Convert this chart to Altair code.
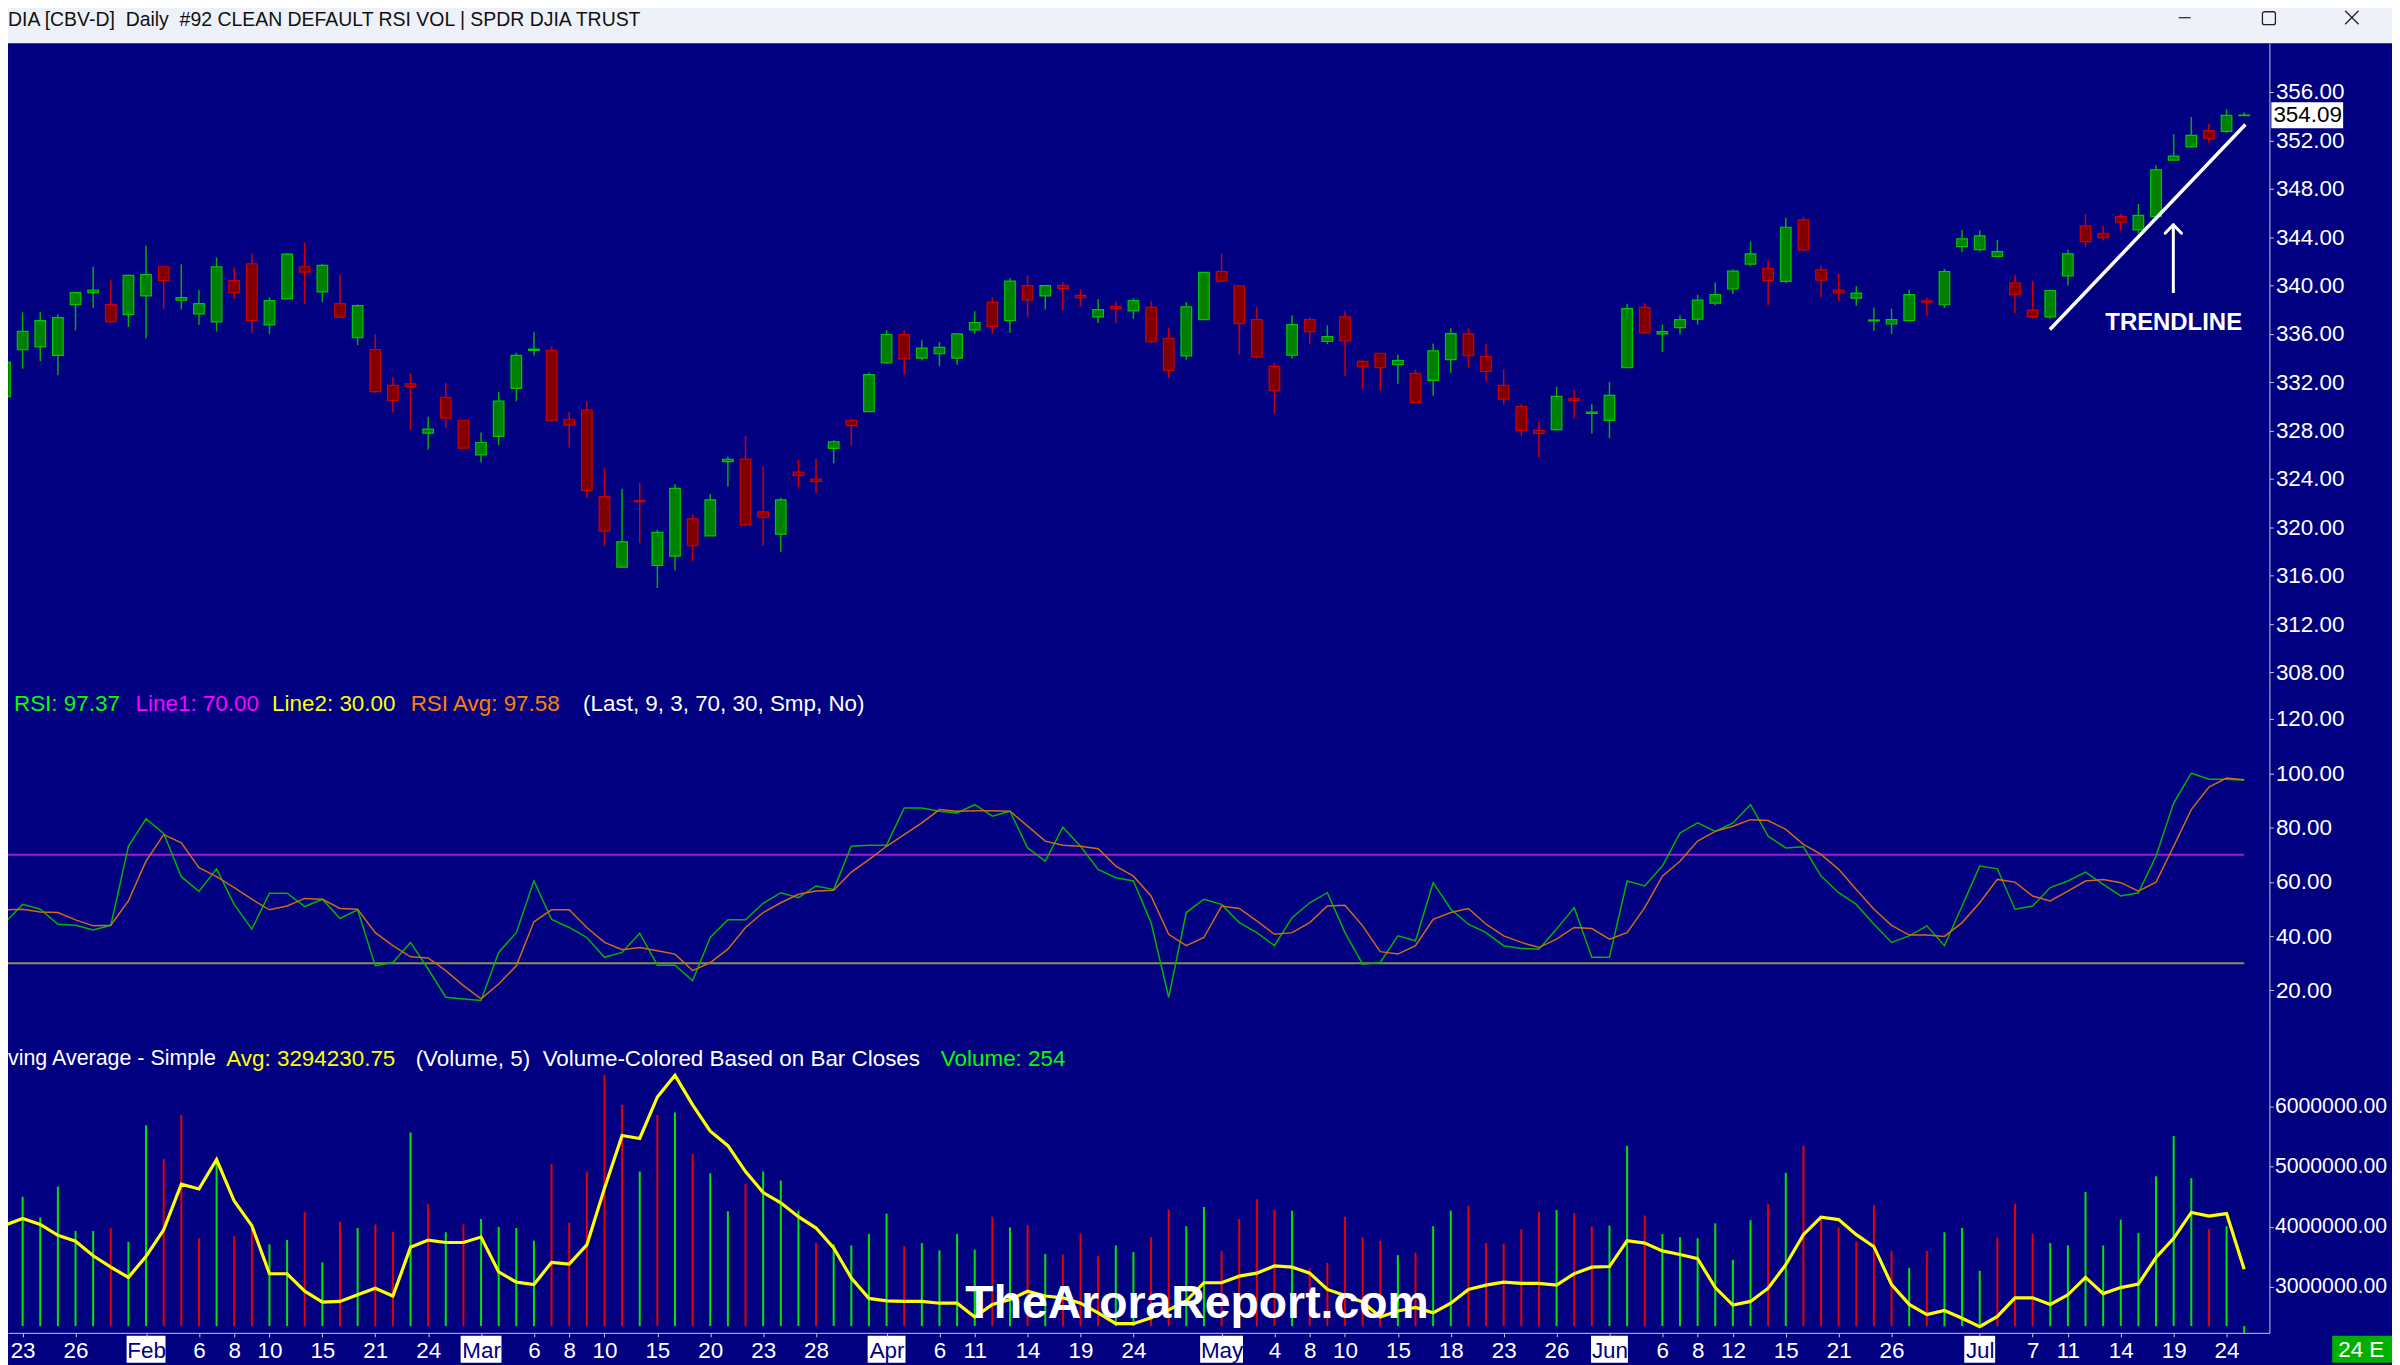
import altair as alt
import pandas as pd

FONT = "Liberation Sans, Arial, Helvetica, sans-serif"

# ---------------- values ----------------
opens = [330.81, 334.69, 334.93, 334.22, 338.42, 339.41, 338.42, 337.60, 339.14, 341.55,
         338.78, 337.65, 336.99, 340.40, 341.80, 336.75, 338.89, 341.55, 339.47, 338.50,
         335.68, 334.71, 331.75, 331.86, 327.79, 330.76, 328.86, 326.00, 327.52, 331.50,
         334.63, 334.63, 328.94, 329.69, 322.54, 316.72, 322.22, 316.86, 317.63, 320.70,
         319.30, 325.43, 325.65, 321.28, 319.44, 324.58, 324.00, 326.53, 328.86, 329.58,
         333.61, 335.95, 334.00, 334.36, 334.00, 336.33, 338.61, 337.10, 339.99, 339.14,
         339.99, 339.19, 337.41, 338.26, 337.90, 338.20, 335.62, 334.19, 337.18, 341.16,
         339.98, 337.18, 333.31, 334.24, 337.18, 335.37, 337.40, 333.72, 334.40, 333.47,
         332.73, 332.15, 333.88, 336.00, 334.13, 331.74, 329.98, 328.03, 328.09, 330.64,
         329.43, 328.85, 333.20, 338.20, 336.00, 336.52, 337.21, 338.55, 339.71, 341.77,
         341.41, 340.34, 345.42, 341.30, 339.62, 338.96, 337.07, 336.82, 337.10, 338.74,
         338.41, 343.22, 342.97, 342.40, 340.23, 337.97, 337.40, 340.80, 344.93, 344.32,
         345.72, 344.60, 345.69, 350.37, 351.46, 352.81, 352.75, 354.05]
highs = [333.75, 337.79, 337.79, 337.63, 339.52, 341.55, 340.43, 340.90, 343.31, 341.55,
         341.75, 339.60, 342.32, 341.50, 342.63, 339.03, 342.65, 343.56, 341.77, 340.92,
         338.45, 335.95, 332.46, 332.77, 329.14, 331.97, 328.86, 327.85, 331.22, 334.44,
         336.14, 334.96, 329.55, 330.46, 324.88, 323.20, 323.70, 319.80, 323.59, 321.06,
         322.76, 325.84, 327.57, 325.04, 322.46, 325.59, 325.67, 327.21, 328.97, 332.79,
         336.31, 336.31, 335.48, 335.32, 336.00, 337.87, 339.03, 340.62, 340.84, 339.99,
         340.26, 339.69, 338.86, 338.67, 338.94, 338.70, 336.47, 338.64, 341.08, 342.62,
         339.98, 338.20, 333.61, 337.54, 337.37, 336.71, 337.87, 333.88, 334.40, 334.27,
         333.06, 335.20, 336.46, 336.46, 335.17, 333.06, 330.20, 328.72, 331.63, 331.33,
         330.20, 332.01, 338.50, 338.53, 336.77, 337.54, 339.24, 340.26, 341.33, 343.64,
         342.07, 345.61, 345.69, 341.66, 340.97, 339.95, 338.19, 338.08, 339.65, 338.96,
         341.38, 344.60, 344.57, 343.77, 340.89, 340.39, 339.65, 342.95, 345.91, 344.93,
         345.94, 346.74, 349.95, 352.51, 353.93, 353.36, 354.57, 354.30]
lows = [329.41, 333.12, 333.75, 332.57, 336.28, 338.17, 336.91, 336.58, 335.62, 338.07,
        338.01, 336.75, 336.20, 338.89, 336.09, 335.98, 338.89, 338.48, 338.64, 337.33,
        335.07, 331.12, 329.50, 328.04, 326.45, 328.20, 326.55, 325.37, 326.80, 330.43,
        334.22, 328.75, 326.61, 322.44, 318.45, 316.64, 318.70, 314.99, 316.44, 317.21,
        319.30, 323.39, 320.15, 318.50, 317.95, 323.31, 322.84, 325.29, 326.75, 329.58,
        333.53, 332.65, 333.81, 333.34, 333.45, 336.00, 336.00, 336.09, 337.38, 338.01,
        337.96, 338.26, 336.91, 336.86, 337.24, 335.24, 332.38, 333.87, 337.18, 340.28,
        334.32, 333.96, 329.40, 333.94, 335.15, 335.17, 332.54, 331.46, 331.33, 331.88,
        330.34, 330.89, 332.78, 333.22, 332.07, 330.15, 327.54, 325.83, 328.00, 329.00,
        327.76, 327.37, 333.20, 336.00, 334.52, 335.94, 336.77, 338.36, 339.30, 341.60,
        338.36, 340.20, 342.81, 339.05, 338.74, 338.33, 336.27, 336.00, 337.10, 337.50,
        338.14, 342.76, 342.81, 342.34, 337.73, 337.26, 337.26, 340.00, 343.17, 343.72,
        344.54, 344.32, 345.61, 350.37, 351.41, 351.79, 352.62, 354.00]
closes = [333.67, 336.20, 337.10, 337.35, 339.41, 339.63, 337.02, 340.84, 340.90, 340.40,
          339.00, 338.50, 341.55, 339.41, 337.10, 338.75, 342.60, 341.11, 341.66, 337.38,
          338.34, 331.23, 330.49, 331.64, 328.12, 329.03, 326.55, 327.02, 330.45, 334.22,
          334.74, 328.86, 328.45, 323.04, 319.69, 318.81, 322.13, 319.58, 323.23, 318.48,
          322.27, 325.62, 320.21, 320.84, 322.27, 324.30, 323.81, 327.08, 328.42, 332.63,
          335.95, 333.94, 334.82, 334.88, 336.00, 336.94, 336.61, 340.37, 338.81, 339.99,
          339.77, 339.00, 338.01, 338.09, 338.75, 335.35, 332.96, 338.23, 341.08, 340.37,
          336.85, 334.10, 331.30, 336.77, 336.19, 335.78, 335.42, 333.28, 333.20, 333.80,
          330.34, 334.60, 336.02, 334.20, 332.89, 330.61, 328.00, 327.78, 330.83, 330.48,
          329.54, 330.91, 338.09, 336.08, 336.19, 337.18, 338.80, 339.24, 341.19, 342.62,
          340.40, 344.82, 342.95, 340.45, 339.40, 339.37, 337.15, 337.18, 339.24, 338.63,
          341.16, 343.85, 344.10, 342.81, 339.24, 337.42, 339.59, 342.62, 343.63, 343.96,
          345.23, 345.80, 349.57, 350.70, 352.42, 352.15, 354.07, 354.09]

rsi = [45.0, 51.7, 49.9, 44.4, 44.0, 42.3, 44.0, 73.1, 83.2, 77.8,
       61.9, 56.5, 64.8, 51.7, 42.6, 55.8, 55.8, 50.9, 53.6, 46.5,
       49.7, 29.1, 30.3, 37.7, 27.9, 17.5, 16.9, 16.3, 34.0, 41.3,
       60.3, 46.2, 43.2, 39.5, 32.2, 34.0, 41.1, 29.3, 29.3, 23.6,
       39.5, 46.0, 46.0, 52.1, 56.0, 54.2, 58.5, 57.2, 73.1, 73.5,
       73.5, 87.2, 87.2, 86.0, 85.4, 88.4, 84.2, 86.0, 72.5, 67.6,
       80.1, 73.1, 64.6, 61.5, 60.3, 45.0, 17.5, 48.7, 53.6, 51.7,
       45.0, 41.3, 36.5, 46.8, 52.3, 56.0, 41.3, 29.7, 30.3, 40.1,
       38.3, 59.7, 49.9, 44.4, 41.3, 36.5, 35.5, 35.2, 42.6, 50.5,
       32.2, 32.2, 60.3, 58.5, 65.8, 78.0, 81.7, 78.6, 81.7, 88.4,
       76.8, 72.5, 72.9, 62.1, 56.0, 51.7, 44.4, 37.7, 40.1, 43.8,
       36.5, 51.1, 65.8, 64.8, 49.9, 51.1, 57.9, 60.3, 63.6, 59.1,
       54.8, 56.0, 69.5, 89.0, 100.0, 97.8, 97.8, 97.37]
rsi_avg = [49.7, 49.9, 48.9, 48.7, 46.0, 43.8, 44.0, 53.0, 67.6, 77.4,
           74.4, 65.2, 61.9, 57.9, 53.6, 49.7, 51.1, 53.9, 53.6, 50.2,
           49.9, 41.3, 36.5, 32.4, 32.0, 27.3, 21.8, 16.9, 22.4, 29.1,
           45.3, 49.7, 49.7, 43.2, 37.7, 35.0, 35.8, 34.6, 33.4, 27.3,
           30.3, 35.2, 43.2, 48.7, 52.3, 55.4, 56.6, 56.9, 63.6, 68.2,
           73.1, 77.4, 81.7, 86.6, 86.0, 86.2, 86.2, 86.0, 80.5, 75.0,
           73.5, 73.1, 72.2, 65.8, 62.1, 54.8, 40.7, 36.5, 39.5, 51.1,
           50.2, 45.6, 40.7, 41.3, 45.0, 51.1, 51.4, 43.8, 34.3, 33.4,
           36.5, 46.2, 48.7, 50.2, 44.4, 40.1, 37.7, 35.8, 38.9, 43.2,
           42.8, 38.9, 41.3, 50.5, 62.1, 67.6, 75.0, 78.6, 80.5, 82.9,
           82.6, 79.3, 73.8, 70.1, 64.6, 57.2, 49.9, 44.0, 40.4, 40.4,
           39.9, 45.0, 52.3, 60.9, 59.9, 54.8, 53.0, 56.6, 60.3, 60.9,
           59.7, 56.6, 59.9, 73.1, 86.6, 94.9, 98.2, 97.58]

volume = [4570000, 4500000, 4160000, 4670000, 3930000, 3930000, 3980000, 3750000, 5690000, 5130000,
          5860000, 3810000, 5110000, 3850000, 4020000, 3710000, 3780000, 4250000, 3410000, 4090000,
          3980000, 4040000, 3920000, 5570000, 4380000, 3910000, 4040000, 4130000, 4000000, 3980000,
          3770000, 5050000, 4070000, 4920000, 6530000, 6030000, 4920000, 5860000, 5900000, 5210000,
          4890000, 4260000, 4710000, 4920000, 4770000, 4270000, 3730000, 3710000, 3690000, 3880000,
          4220000, 3680000, 3730000, 3610000, 3880000, 3620000, 4170000, 3990000, 4030000, 3550000,
          3540000, 3890000, 3520000, 3690000, 3580000, 3830000, 4290000, 4010000, 4330000, 3600000,
          4130000, 4460000, 4280000, 4270000, 3310000, 3400000, 4170000, 3830000, 3770000, 3530000,
          3570000, 4010000, 4270000, 4350000, 3730000, 3720000, 3960000, 4250000, 4280000, 4230000,
          4010000, 4020000, 5350000, 4190000, 3880000, 3830000, 3810000, 4060000, 3450000, 4110000,
          4380000, 4900000, 5350000, 4180000, 3990000, 3760000, 4360000, 3600000, 3320000, 3600000,
          3910000, 3980000, 3270000, 3820000, 4380000, 3890000, 3730000, 3690000, 4580000, 3690000,
          4120000, 3900000, 4840000, 5510000, 4810000, 3960000, 4010000, 254]
# g = close above previous close (green bar), r = below (red bar)
vol_up = ("ggggggrggr" "rrgrrggrgr" "grrgrgrggg" "grrrrrgrgr" "ggrgg"
          "grggggrggg" "grgrgrrrgg" "rrggrrrrgr" "rrrrgrggrr" "rrrgrr"
          "ggrggggggr" "grrrrrrgrg" "ggrrrggggg" "ggggrgg")
vol_ma = [4030000, 4140000, 4040000, 3860000, 3760000, 3520000, 3330000, 3160000, 3510000, 3950000,
          4710000, 4630000, 5120000, 4430000, 4020000, 3220000, 3220000, 2930000, 2750000, 2760000,
          2870000, 2980000, 2850000, 3660000, 3780000, 3740000, 3740000, 3830000, 3250000, 3080000,
          3040000, 3410000, 3380000, 3700000, 4640000, 5520000, 5470000, 6160000, 6520000, 6030000,
          5590000, 5350000, 4920000, 4570000, 4400000, 4170000, 3980000, 3650000, 3150000, 2810000,
          2770000, 2760000, 2760000, 2730000, 2730000, 2500000, 2710000, 2790000, 2930000, 2850000,
          2820000, 2730000, 2570000, 2390000, 2390000, 2490000, 2620000, 2770000, 3070000, 3070000,
          3180000, 3230000, 3350000, 3330000, 3230000, 2960000, 2860000, 2750000, 2500000, 2600000,
          2660000, 2570000, 2730000, 2960000, 3030000, 3080000, 3060000, 3060000, 3030000, 3220000,
          3330000, 3340000, 3770000, 3730000, 3600000, 3540000, 3470000, 2990000, 2700000, 2760000,
          2980000, 3370000, 3870000, 4160000, 4120000, 3870000, 3670000, 3040000, 2710000, 2540000,
          2610000, 2480000, 2340000, 2510000, 2820000, 2820000, 2710000, 2870000, 3160000, 2890000,
          2990000, 3050000, 3490000, 3810000, 4240000, 4180000, 4220000, 3294230.75]

tick_idx = [1, 4, 8, 11, 13, 15, 18, 21, 24, 27, 30, 32, 34, 37, 40, 43, 46, 50, 53, 55,
            58, 61, 64, 69, 72, 74, 76, 79, 82, 85, 88, 91, 94, 96, 98, 101, 104, 107, 112, 115,
            117, 120, 123, 126]
tick_lab = ["23", "26", "Feb", "6", "8", "10", "15", "21", "24", "Mar", "6", "8", "10", "15", "20",
            "23", "28", "Apr", "6", "11", "14", "19", "24", "May", "4", "8", "10", "15", "18", "23",
            "26", "Jun", "6", "8", "12", "15", "21", "26", "Jul", "7", "11", "14", "19", "24"]
months = ["Feb", "Mar", "Apr", "May", "Jun", "Jul"]

price_ticks = [308, 312, 316, 320, 324, 328, 332, 336, 340, 344, 348, 352, 356]
rsi_ticks = [20, 40, 60, 80, 100, 120]
vol_ticks = [3000000, 4000000, 5000000, 6000000]
rsi_levels = [70, 30]
last_price = 354.09
trend_x = [115.98, 127.07]
trend_y = [336.36, 353.31]
arrow_x = [122.98]
arrow_lo = [339.38]
arrow_hi = [345.02]

n = len(closes)
vol_dir = list(vol_up)[:n]

# ---------------- scales ----------------
XMIN, XMAX = 0.17, 128.43
PLOT_W, PLOT_H = 2269, 1327
PX = PLOT_W / (XMAX - XMIN)
XS = alt.Scale(domain=[XMIN, XMAX], nice=False, zero=False)
PS = alt.Scale(domain=[306.72, 360.04], range=[680, 33], nice=False, zero=False)
RS = alt.Scale(domain=[5.87, 131.38], range=[1022, 680], nice=False, zero=False)
VS = alt.Scale(domain=[2237527, 7293055], range=[1327, 1022], nice=False, zero=False, clamp=True)

AXC = "#C8C8D8"


def yaxis(vals, size=22.5, pad=2):
    return alt.Axis(orient="right", values=vals, format=".2f", title=None, grid=False,
                    domainColor=AXC, tickColor=AXC, tickSize=4, labelPadding=pad,
                    labelColor="white", labelFont=FONT, labelFontSize=size,
                    labelOverlap=False, labelFlush=False)


AX_P = yaxis(price_ticks)
AX_R = yaxis(rsi_ticks)
AX_V = yaxis(vol_ticks, size=21.3, pad=1)

lab_arr = "[" + ",".join("'%s'" % t for t in tick_lab) + "]"
idx_arr = "[" + ",".join(str(t) for t in tick_idx) + "]"
month_idx = [t for t, l in zip(tick_idx, tick_lab) if l in months]
month_arr = "[" + ",".join(str(t) for t in month_idx) + "]"
AX_X = alt.Axis(values=tick_idx, labelExpr=lab_arr + "[indexof(" + idx_arr + ", datum.value)]",
                title=None, grid=False, domainColor=AXC, tickColor=AXC, tickSize=4,
                labelPadding=3, labelFont=FONT, labelFontSize=22.5, labelFlush=False,
                labelOverlap=False, zindex=1,
                labelColor={"condition": {"test": "indexof(" + month_arr + ", datum.value) >= 0",
                                          "value": "#000080"}, "value": "white"})


def X(field):
    return alt.X(field, type="quantitative", scale=XS, axis=AX_X)


def YP(field):
    return alt.Y(field, type="quantitative", scale=PS, axis=AX_P)


def YR(field):
    return alt.Y(field, type="quantitative", scale=RS, axis=AX_R)


def YV(field):
    return alt.Y(field, type="quantitative", scale=VS, axis=AX_V)


one = pd.DataFrame({"k": [0]})


def txt(s, x, y, color, size=22.5, align="left", weight="normal", font=FONT, baseline="middle"):
    return alt.Chart(one).mark_text(text=s, align=align, baseline=baseline, font=font,
                                    fontSize=size, fontWeight=weight, color=color).encode(
        x=alt.value(x), y=alt.value(y))


# ---------------- price panel ----------------
candles = pd.DataFrame({"i": range(n), "o": opens, "h": highs, "l": lows, "c": closes})
cb = alt.Chart(candles).transform_calculate(
    top="max(datum.o, datum.c)", bot="min(datum.o, datum.c)",
    x0="datum.i - 0.3", x1="datum.i + 0.3")
up = "datum.c >= datum.o"
wicks = cb.mark_rule(strokeWidth=1.5).encode(
    x=X("i"), y=YP("h"), y2=alt.Y2("l"),
    color=alt.condition(up, alt.value("#00B000"), alt.value("#D00000")))
bodies = cb.mark_rect(strokeWidth=1.2).encode(
    x=X("x0"), x2=alt.X2("x1"), y=YP("top"), y2=alt.Y2("bot"),
    fill=alt.condition(up, alt.value("#008000"), alt.value("#800000")),
    stroke=alt.condition(up, alt.value("#00C800"), alt.value("#D00000")))

trend = alt.Chart(pd.DataFrame({"tx": trend_x, "ty": trend_y})).mark_line(
    color="white", strokeWidth=3.5).encode(x=X("tx"), y=YP("ty"))
arrow_df = pd.DataFrame({"ax": arrow_x, "lo": arrow_lo, "hi": arrow_hi})
ab = alt.Chart(arrow_df).transform_calculate(
    hl="datum.ax - 8.2 / %f" % PX, hr="datum.ax + 8.2 / %f" % PX, hy="datum.hi - 8.5 / 12.135")
shaft = ab.mark_rule(color="white", strokeWidth=3).encode(
    x=X("ax"), y=YP("lo"), y2=alt.Y2("hi"))
head_l = ab.mark_rule(color="white", strokeWidth=3, strokeCap="round").encode(
    x=X("hl"), x2=alt.X2("ax"), y=YP("hy"), y2=alt.Y2("hi"))
head_r = ab.mark_rule(color="white", strokeWidth=3, strokeCap="round").encode(
    x=X("hr"), x2=alt.X2("ax"), y=YP("hy"), y2=alt.Y2("hi"))
trend_txt = alt.Chart(pd.DataFrame({"tx": [123.0], "ty": [336.91], "t": ["TRENDLINE"]})).mark_text(
    font=FONT, fontSize=24, fontWeight="bold", color="white", align="center",
    baseline="middle").encode(x=X("tx"), y=YP("ty"), text="t:N")

last_df = pd.DataFrame({"p": [last_price]})
lb = alt.Chart(last_df).transform_calculate(
    pt="datum.p + 1.07", pb="datum.p - 1.08", t="format(datum.p, '.2f')")
last_box = lb.mark_rect(color="white").encode(
    x=alt.value(2271), x2=alt.value(2343), y=YP("pt"), y2=alt.Y2("pb"))
last_txt = lb.mark_text(align="left", baseline="middle", font=FONT, fontSize=22.5,
                        color="black").encode(x=alt.value(2273), y=YP("p"), text="t:N")

price = alt.layer(wicks, bodies, trend, shaft, head_l, head_r, trend_txt, last_box, last_txt)

# ---------------- RSI panel ----------------
ind = pd.DataFrame({"i": range(n), "rsi": rsi, "avg": rsi_avg, "v": volume,
                    "vd": vol_dir, "ma": vol_ma})
ib = alt.Chart(ind)
lv = alt.Chart(pd.DataFrame({"lvl": rsi_levels})).transform_calculate(
    x0="0", x1=str(n - 1)).mark_rule(strokeWidth=2).encode(
    x=X("x0"), x2=alt.X2("x1"), y=YR("lvl"),
    color=alt.condition("datum.lvl == 70", alt.value("#9A1FD0"), alt.value("#8E8E48")))
rsi_line = ib.mark_line(color="#00B400", strokeWidth=1.5).encode(x=X("i"), y=YR("rsi"))
avg_line = ib.mark_line(color="#D06A18", strokeWidth=1.5).encode(x=X("i"), y=YR("avg"))
rsi_panel = alt.layer(lv, rsi_line, avg_line)

# ---------------- volume panel ----------------
vbars = ib.transform_calculate(base="2350000").mark_rule(strokeWidth=2).encode(
    x=X("i"), y=YV("v"), y2=alt.Y2("base"),
    color=alt.condition("datum.vd == 'g'", alt.value("#00E600"), alt.value("#E60000")))
ma_line = ib.mark_line(color="#FFFF00", strokeWidth=3.2).encode(x=X("i"), y=YV("ma"))
vol_panel = alt.layer(vbars, ma_line)

# month label boxes under the axis
half_w = {"Feb": 19.5, "Mar": 20.5, "Apr": 19, "May": 21.5, "Jun": 18.5, "Jul": 15.5}
mdf = pd.DataFrame({"i": month_idx, "m": [l for l in tick_lab if l in months]})
mdf["x0"] = mdf["i"] - mdf["m"].map(half_w) / PX
mdf["x1"] = mdf["i"] + mdf["m"].map(half_w) / PX
mboxes = alt.Chart(mdf).mark_rect(color="white").encode(
    x=X("x0"), x2=alt.X2("x1"), y=alt.value(1330), y2=alt.value(1357))

# ---------------- window chrome and texts ----------------
title_bar = alt.Chart(one).mark_rect(color="#EEF2F8").encode(
    x=alt.value(-2), x2=alt.value(2394), y=alt.value(-3), y2=alt.value(33))
title_txt = txt("DIA [CBV-D]\u00a0 Daily\u00a0 #92 CLEAN DEFAULT RSI VOL | SPDR DJIA TRUST",
                0, 10, "#111111", size=19.5)
minim = alt.Chart(one).mark_rule(color="#222222", strokeWidth=1.2).encode(
    x=alt.value(2178), x2=alt.value(2190), y=alt.value(7.5), y2=alt.value(7.5))
maxim = alt.Chart(one).mark_rect(fillOpacity=0, stroke="#222222", strokeWidth=1.3,
                                 cornerRadius=2).encode(
    x=alt.value(2262), x2=alt.value(2275), y=alt.value(1.5), y2=alt.value(14.5))
close1 = alt.Chart(one).mark_rule(color="#222222", strokeWidth=1.3).encode(
    x=alt.value(2345), x2=alt.value(2358.5), y=alt.value(0.5), y2=alt.value(14))
close2 = alt.Chart(one).mark_rule(color="#222222", strokeWidth=1.3).encode(
    x=alt.value(2358.5), x2=alt.value(2345), y=alt.value(0.5), y2=alt.value(14))

RY = 696
rsi_hdr = [txt("RSI: 97.37", 6, RY, "#00FF00"),
           txt("Line1: 70.00", 128, RY, "#FF00FF"),
           txt("Line2: 30.00", 265, RY, "#FFFF00"),
           txt("RSI Avg: 97.58", 404, RY, "#FF8000"),
           txt("(Last, 9, 3, 70, 30, Smp, No)", 577, RY, "white")]
VY = 1052
vol_hdr = [txt("ving Average - Simple", 0, VY, "white", size=21.5),
           txt("Avg: 3294230.75", 219, VY, "#FFFF00"),
           txt("(Volume, 5)\u00a0 Volume-Colored Based on Bar Closes", 409, VY, "white"),
           txt("Volume: 254", 936, VY, "#00FF00")]
watermark = txt("TheAroraReport.com", 1193, 1312, "white", size=46.5, align="center",
                weight="bold", baseline="alphabetic")
e_box = alt.Chart(one).mark_rect(color="#00B000").encode(
    x=alt.value(2332), x2=alt.value(2392), y=alt.value(1330), y2=alt.value(1357))
e_txt = txt("24 E", 2338, 1344, "white")

chart = alt.layer(
    price, rsi_panel, vol_panel, mboxes, watermark,
    title_bar, title_txt, minim, maxim, close1, close2,
    *rsi_hdr, *vol_hdr, e_box, e_txt
).resolve_scale(y="independent").properties(
    width=PLOT_W, height=PLOT_H,
    padding={"left": 0, "top": 0, "right": 123, "bottom": 30},
    autosize=alt.AutoSizeParams(type="none"),
    background="#000080",
).configure_view(stroke=None)

chart.save("out.html", embed_options={"renderer": "svg", "actions": False})
